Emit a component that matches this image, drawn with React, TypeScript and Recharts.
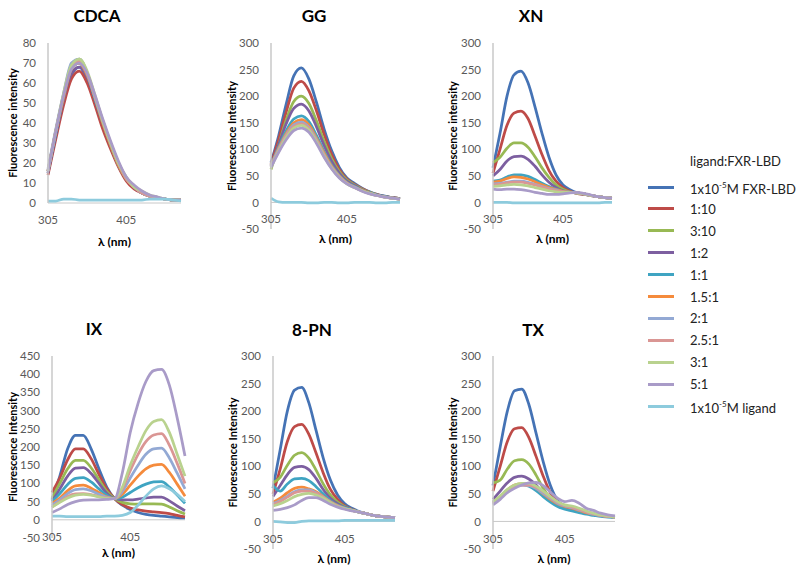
import React from 'react';
import { LineChart, Line, XAxis, YAxis, ReferenceLine } from 'recharts';

const wavelengths = [305, 315, 325, 335, 345, 355, 365, 375, 385, 395, 405, 415, 425, 435, 445, 455, 465, 475];

const seriesNames = ['FXR', '1:10', '3:10', '1:2', '1:1', '1.5:1', '2:1', '2.5:1', '3:1', '5:1', 'ligand'];
const seriesColors = ['#4573B5', '#BE4B48', '#98B954', '#7D5FA0', '#3FA4C2', '#F58B3C', '#93A9D4', '#DA9694', '#B9D28E', '#A99BC8', '#8DCBDD'];

const cdcaTicks = [0, 10, 20, 30, 40, 50, 60, 70, 80];
const ticks300 = [-50, 0, 50, 100, 150, 200, 250, 300];
const ticks450 = [-50, 0, 50, 100, 150, 200, 250, 300, 350, 400, 450];
const xTicks = [305, 405];

const cdca = [
  [15, 34, 51, 64, 68, 62, 51, 39, 28, 19, 12, 8, 5, 3.5, 2.5, 2, 1.5, 1.5],
  [14, 32, 49, 62, 66, 60, 49, 37, 27, 18, 11, 7, 5, 3.5, 2.5, 2, 1.5, 1.5],
  [16, 36, 54, 68, 72, 65, 53, 41, 29, 19, 12, 8, 5, 3.5, 2.5, 2, 1.5, 1.5],
  [15, 34, 52, 65, 68, 63, 52, 40, 29, 19, 12, 8, 5, 3.5, 2.5, 2, 1.5, 1.5],
  [16, 35, 53, 67, 70, 64, 52, 40, 29, 19, 12, 8, 5, 3.5, 2.5, 2, 1.5, 1.5],
  [16, 36, 53, 67, 70, 64, 53, 40, 29, 19, 12, 8, 5, 3.5, 2.5, 2, 1.5, 1.5],
  [17, 37, 55, 70, 72, 65, 53, 41, 30, 20, 13, 8, 5, 3.5, 2.5, 2, 1.5, 1.5],
  [16, 36, 54, 68, 71, 65, 53, 41, 30, 20, 12, 8, 5, 3.5, 2.5, 2, 1.5, 1.5],
  [16, 36, 55, 69, 72, 66, 54, 41, 30, 20, 13, 8, 6, 4, 3, 2, 1.5, 1.5],
  [16, 36, 54, 67, 70, 65, 54, 42, 31, 21, 13, 9, 6, 4, 3, 2, 1.5, 1.5],
  [1, 1, 2, 2, 1.5, 1.5, 1.5, 1.5, 1.5, 1.5, 1.5, 1.5, 1.5, 2, 2, 2, 1.5, 1],
];

const gg = [
  [75, 125, 185, 238, 253, 232, 188, 138, 97, 66, 46, 36, 27, 20, 15, 12, 9, 7],
  [72, 118, 170, 215, 228, 210, 172, 128, 90, 62, 44, 34, 26, 19, 15, 11, 9, 7],
  [62, 108, 155, 190, 200, 186, 153, 115, 82, 58, 42, 33, 25, 19, 14, 11, 9, 7],
  [68, 108, 148, 177, 185, 172, 142, 107, 77, 55, 40, 32, 24, 18, 14, 11, 9, 7],
  [70, 104, 135, 157, 163, 152, 126, 96, 70, 51, 38, 30, 23, 18, 14, 11, 8, 6],
  [70, 102, 130, 150, 156, 146, 121, 93, 68, 50, 37, 29, 23, 17, 13, 10, 8, 6],
  [70, 100, 127, 146, 151, 141, 118, 90, 66, 49, 36, 29, 22, 17, 13, 10, 8, 6],
  [68, 98, 125, 143, 148, 139, 116, 89, 65, 48, 36, 28, 22, 17, 13, 10, 8, 6],
  [66, 96, 122, 140, 145, 136, 114, 87, 64, 47, 35, 28, 22, 17, 13, 10, 8, 6],
  [66, 94, 118, 135, 140, 132, 111, 85, 63, 46, 35, 28, 21, 16, 13, 10, 8, 6],
  [8, 1, 0, 0, 0, -1, -1, 0, 0, -1, -1, 0, 0, 0, -1, -1, 0, 0],
];

const xn = [
  [65, 130, 200, 240, 247, 225, 180, 130, 85, 52, 33, 24, 18, 15, 13, 11, 9, 8],
  [55, 100, 145, 168, 172, 158, 125, 90, 60, 40, 28, 21, 17, 15, 13, 11, 9, 8],
  [75, 85, 102, 112, 112, 104, 86, 65, 47, 33, 25, 20, 18, 16, 13, 11, 9, 8],
  [50, 62, 78, 86, 87, 81, 68, 52, 38, 28, 22, 19, 18, 16, 13, 11, 9, 8],
  [40, 42, 48, 52, 52, 49, 43, 36, 30, 25, 21, 19, 18, 16, 13, 11, 9, 8],
  [38, 40, 45, 48, 47, 44, 39, 33, 28, 24, 21, 19, 18, 16, 13, 11, 9, 8],
  [35, 36, 38, 40, 40, 38, 34, 30, 26, 23, 20, 19, 18, 16, 13, 11, 9, 8],
  [33, 34, 37, 38, 38, 36, 33, 29, 25, 22, 20, 19, 18, 16, 13, 11, 9, 8],
  [30, 31, 33, 34, 33, 31, 28, 25, 22, 20, 19, 19, 18, 16, 13, 11, 9, 8],
  [25, 24, 25, 25, 24, 22, 19, 17, 15, 15, 16, 18, 19, 17, 14, 11, 9, 8],
  [0, 0, 0, -1, -1, -1, -1, -1, -1, -1, -1, -1, -1, -1, -1, -1, 0, 0],
];

const ix = [
  [55, 120, 195, 232, 232, 195, 140, 90, 58, 40, 28, 20, 15, 12, 10, 8, 6, 5],
  [75, 115, 165, 195, 195, 168, 125, 85, 58, 42, 32, 27, 24, 22, 20, 17, 12, 8],
  [60, 100, 140, 163, 163, 143, 110, 78, 58, 48, 44, 43, 44, 44, 43, 35, 25, 16],
  [50, 85, 120, 142, 143, 127, 100, 73, 58, 55, 55, 57, 60, 62, 62, 52, 38, 25],
  [50, 72, 97, 114, 116, 104, 85, 68, 58, 62, 75, 88, 98, 104, 105, 90, 68, 45],
  [45, 60, 80, 93, 95, 87, 75, 63, 58, 70, 95, 120, 140, 150, 152, 130, 98, 65],
  [40, 55, 72, 83, 85, 80, 70, 62, 58, 78, 115, 150, 180, 195, 197, 170, 128, 85],
  [35, 50, 64, 71, 72, 69, 64, 60, 58, 85, 135, 180, 215, 233, 237, 205, 155, 100],
  [35, 48, 60, 68, 70, 68, 63, 59, 58, 90, 150, 200, 245, 270, 275, 240, 180, 120],
  [20, 30, 42, 50, 54, 55, 55, 56, 58, 130, 240, 320, 380, 410, 413, 370, 280, 175],
  [10, 10, 9, 9, 9, 9, 9, 10, 10, 12, 20, 40, 65, 85, 93, 85, 70, 50],
];

const pn8 = [
  [60, 130, 200, 238, 243, 215, 165, 115, 75, 48, 32, 24, 18, 14, 11, 9, 8, 7],
  [50, 95, 145, 172, 176, 158, 124, 88, 58, 40, 28, 22, 17, 14, 11, 9, 8, 7],
  [70, 80, 102, 120, 125, 115, 93, 68, 48, 35, 27, 21, 17, 14, 11, 9, 8, 7],
  [45, 65, 85, 98, 100, 94, 78, 58, 42, 32, 26, 21, 17, 14, 11, 9, 8, 7],
  [65, 55, 68, 77, 78, 74, 63, 50, 38, 30, 25, 21, 17, 14, 11, 9, 8, 7],
  [35, 42, 52, 60, 62, 59, 54, 45, 36, 29, 24, 20, 17, 14, 11, 9, 8, 7],
  [32, 38, 46, 54, 57, 57, 52, 44, 35, 28, 24, 20, 17, 14, 11, 9, 8, 7],
  [30, 36, 44, 52, 55, 55, 51, 44, 35, 28, 23, 20, 17, 14, 11, 9, 8, 7],
  [28, 32, 38, 45, 49, 51, 48, 42, 34, 27, 23, 20, 17, 14, 11, 9, 8, 7],
  [20, 22, 25, 30, 38, 43, 43, 38, 31, 26, 22, 19, 17, 14, 11, 9, 8, 7],
  [0, -1, -2, -2, 0, 1, 1, 1, 1, 1, 2, 2, 2, 2, 2, 2, 2, 2],
];

const tx = [
  [65, 135, 200, 237, 240, 212, 160, 108, 65, 38, 28, 24, 20, 16, 13, 11, 9, 8],
  [55, 100, 145, 168, 170, 152, 118, 82, 52, 35, 27, 23, 20, 16, 13, 11, 9, 8],
  [70, 75, 95, 110, 112, 104, 84, 60, 42, 32, 26, 23, 20, 16, 13, 11, 9, 8],
  [40, 55, 70, 80, 82, 77, 66, 52, 40, 32, 27, 23, 20, 16, 13, 11, 9, 8],
  [35, 45, 57, 65, 67, 64, 56, 45, 35, 27, 22, 19, 16, 13, 11, 9, 8, 7],
  [35, 45, 57, 66, 68, 66, 60, 50, 40, 32, 27, 24, 20, 16, 13, 11, 9, 8],
  [32, 43, 55, 64, 66, 65, 60, 51, 42, 33, 28, 25, 21, 17, 13, 11, 9, 8],
  [33, 44, 56, 64, 66, 66, 62, 54, 44, 35, 29, 26, 22, 17, 14, 11, 9, 8],
  [35, 46, 58, 66, 69, 69, 64, 55, 45, 36, 30, 28, 24, 19, 15, 12, 10, 8],
  [30, 40, 52, 60, 66, 70, 71, 65, 53, 42, 36, 38, 33, 24, 20, 15, 12, 10],
  null,
];

const panels = [
  { title: 'CDCA', yLabel: 'Fluorescence intensity', values: cdca, domain: [0, 80], ticks: cdcaTicks, left: 48, right: 181, top: 43, bottom: 203, zero: 203, titleX: 97, titleY: 15, yLabelX: 13, lambdaY: 241 },
  { title: 'GG', yLabel: 'Fluorescence Intensity', values: gg, domain: [-50, 300], ticks: ticks300, left: 271, right: 400, top: 43, bottom: 229, zero: 202, titleX: 314, titleY: 15, yLabelX: 232, lambdaY: 238 },
  { title: 'XN', yLabel: 'Fluorescence intensity', values: xn, domain: [-50, 300], ticks: ticks300, left: 493, right: 612, top: 43, bottom: 229, zero: 202, titleX: 531, titleY: 15, yLabelX: 453, lambdaY: 238 },
  { title: 'IX', yLabel: 'Fluorescence Intensity', values: ix, domain: [-50, 450], ticks: ticks450, left: 52, right: 185, top: 356, bottom: 538, zero: 520, titleX: 94, titleY: 328, yLabelX: 13, lambdaY: 552 },
  { title: '8-PN', yLabel: 'Fluorescence Intensity', values: pn8, domain: [-50, 300], ticks: ticks300, left: 273, right: 395, top: 356, bottom: 549, zero: 522, titleX: 312, titleY: 329, yLabelX: 233, lambdaY: 558 },
  { title: 'TX', yLabel: 'Fluorescence Intensity', values: tx, domain: [-50, 300], ticks: ticks300, left: 493, right: 615, top: 356, bottom: 549, zero: 522, titleX: 533, titleY: 329, yLabelX: 453, lambdaY: 558 },
];

const font = 'Lato, "Open Sans", sans-serif';
const AXIS_H = 45;

function buildRows(values: (number[] | null)[]) {
  return wavelengths.map((w, i) => {
    const row: any = { w };
    values.forEach((s, k) => {
      if (s) row['s' + k] = s[i];
    });
    return row;
  });
}

const XTick = (props: any) => {
  const { x, y, payload, shift } = props;
  return (
    <text x={x} y={y - shift} dy="0.35em" textAnchor="middle" fill="#595959" fontSize={11.5} fontFamily={font}>
      {payload.value}
    </text>
  );
};

const Panel = ({ p }: { p: any }) => {
  // leave room left of the label so the rotated text is not cut by the svg edge
  const chartLeft = Math.max(0, p.yLabelX - 12);
  const axisW = p.left - chartLeft;
  const chartTop = p.top - 8;
  const width = p.right - chartLeft + 6;
  const height = p.bottom - chartTop + AXIS_H;
  const shift = p.bottom - p.zero - 17;
  const rows = buildRows(p.values);
  return (
    <>
      <div
        style={{
          position: 'absolute', left: p.titleX, top: p.titleY, transform: 'translate(-50%, -50%)',
          fontFamily: font, fontWeight: 700, fontSize: 17, color: '#000', whiteSpace: 'nowrap',
        }}
      >
        {p.title}
      </div>
      <div style={{ position: 'absolute', left: chartLeft, top: chartTop }}>
        <LineChart width={width} height={height} data={rows} margin={{ top: 8, right: 6, bottom: 0, left: 0 }}>
          <XAxis
            dataKey="w"
            type="number"
            domain={[305, 475]}
            ticks={xTicks}
            axisLine={false}
            tickLine={false}
            tickSize={0}
            tickMargin={0}
            height={AXIS_H}
            interval={0}
            tick={(tp: any) => <XTick {...tp} shift={shift} />}
            label={{
              value: 'λ (nm)', position: 'insideTop', offset: p.lambdaY - p.bottom - 4,
              style: { fontWeight: 700, fontSize: 12, fill: '#000', fontFamily: font },
            }}
          />
          <YAxis
            type="number"
            domain={p.domain}
            ticks={p.ticks}
            interval={0}
            width={axisW}
            tickLine={false}
            tickSize={0}
            tickMargin={12}
            axisLine={{ stroke: '#C8C8C8', strokeWidth: 1.5 }}
            tick={{ fill: '#595959', fontSize: 11.5, fontFamily: font }}
            label={{
              value: p.yLabel, angle: -90, position: 'insideLeft', offset: p.yLabelX - chartLeft,
              style: { textAnchor: 'middle', fontWeight: 700, fontSize: 11, fill: '#000', fontFamily: font },
            }}
          />
          <ReferenceLine y={0} stroke="#C8C8C8" strokeWidth={1} />
          {p.values.map((s: number[] | null, k: number) =>
            s ? (
              <Line
                key={k}
                dataKey={'s' + k}
                type="monotone"
                stroke={seriesColors[k]}
                strokeWidth={2.75}
                dot={false}
                isAnimationActive={false}
              />
            ) : null
          )}
        </LineChart>
      </div>
    </>
  );
};

const LegendBox = () => (
  <div style={{ position: 'absolute', left: 0, top: 0, fontFamily: font, fontSize: 13, color: '#222' }}>
    <div style={{ position: 'absolute', left: 690, top: 161, transform: 'translateY(-50%)', whiteSpace: 'nowrap' }}>
      ligand:FXR-LBD
    </div>
    {seriesNames.map((name, k) => {
      const y = 187 + k * 21.9;
      let label: React.ReactNode = name;
      if (k === 0) label = <>1x10<sup style={{ fontSize: 8 }}>-5</sup>M FXR-LBD</>;
      if (k === 10) label = <>1x10<sup style={{ fontSize: 8 }}>-5</sup>M ligand</>;
      return (
        <React.Fragment key={name}>
          <div style={{ position: 'absolute', left: 648, top: y - 1.5, width: 26, height: 3, background: seriesColors[k] }} />
          <div style={{ position: 'absolute', left: 690, top: y, transform: 'translateY(-50%)', whiteSpace: 'nowrap', lineHeight: '16px' }}>
            {label}
          </div>
        </React.Fragment>
      );
    })}
  </div>
);

export default function App() {
  return (
    <div style={{ position: 'absolute', left: 0, top: 0, width: 800, height: 573, background: '#fff', overflow: 'hidden' }}>
      {panels.map((p) => (
        <Panel key={p.title} p={p} />
      ))}
      <LegendBox />
    </div>
  );
}
